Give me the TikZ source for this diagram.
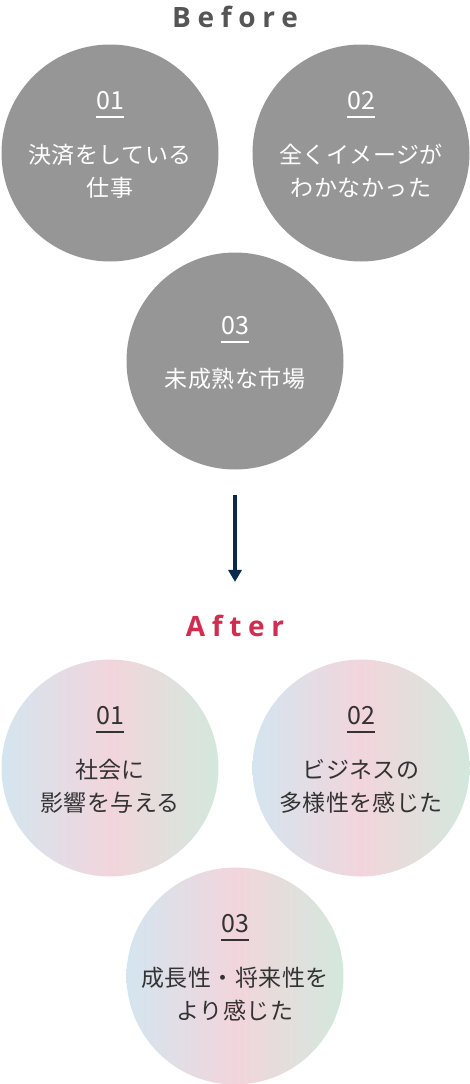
\documentclass[tikz,border=0pt]{standalone}
\usepackage{fontspec}
\setmainfont{Noto Sans CJK JP}
\newfontfamily\titlefont[LetterSpace=24]{Open Sans}
\newfontfamily\jpfont[LetterSpace=2]{Noto Sans CJK JP}
\newfontfamily\numfont{Noto Sans CJK JP}
\usetikzlibrary{arrows.meta}
\definecolor{discgray}{HTML}{969696}
\definecolor{beforetext}{HTML}{555555}
\definecolor{aftertext}{HTML}{D02D50}
\definecolor{arrownavy}{HTML}{082A4E}
\definecolor{aftblue}{HTML}{D4E5EF}
\definecolor{aftpink}{HTML}{F2D5DC}
\definecolor{aftgreen}{HTML}{D3E8DD}
\definecolor{darktext}{HTML}{333333}

\begin{document}
\begin{tikzpicture}[
	  x=1pt, y=-1pt,
	  title/.style={font=\titlefont\bfseries\fontsize{28}{28}\selectfont, inner sep=0pt, anchor=center},
	  disc/.style={circle, minimum size=217pt, inner sep=0pt},
	  before/.style={disc, fill=discgray},
	  after/.style={disc, left color=aftblue, right color=aftgreen, middle color=aftpink},
	  num/.style={font=\numfont\fontsize{25}{25}\selectfont, inner sep=0pt, anchor=base},
	  txt/.style={font=\jpfont\fontsize{23}{33}\selectfont, align=center, inner sep=0pt},
	  uline/.style={line width=1.2pt},
	  flow/.style={-{Triangle[width=13pt,length=12pt]}, line width=4pt, draw=arrownavy}]
	  \useasboundingbox (0,0) rectangle (470,1084);
	  \node[title, text=beforetext] (bef) at (235,17) {Before};
	  \node[before] (b1) at (110,153) {};
	  \node[before] (b2) at (361,153) {};
	  \node[before] (b3) at (235,361) {};
	  \node[num, text=white] (b1n) at (110,109) {01};
	  \draw[uline, white] ([yshift=-8pt]b1n.base west) -- ([yshift=-8pt]b1n.base east);
	  \node[txt, text=white] (b1t) at (110,171) {決済をしている\\仕事};
	  \node[num, text=white] (b2n) at (361,109) {02};
	  \draw[uline, white] ([yshift=-8pt]b2n.base west) -- ([yshift=-8pt]b2n.base east);
	  \node[txt, text=white] (b2t) at (361,171) {全くイメージが\\わかなかった};
	  \node[num, text=white] (b3n) at (235,334) {03};
	  \draw[uline, white] ([yshift=-8pt]b3n.base west) -- ([yshift=-8pt]b3n.base east);
	  \node[txt, text=white] (b3t) at (235,379) {未成熟な市場};
	  \node[title, text=aftertext] (aft) at (235,626) {After};
	  \draw[flow, shorten <=25.5pt, shorten >=33pt] (b3.south) -- (b3.south |- aft.north);
	  \node[after] (a1) at (110,768) {};
	  \node[after] (a2) at (361,768) {};
	  \node[after] (a3) at (235,976) {};
	  \node[num, text=darktext] (a1n) at (110,724) {01};
	  \draw[uline, darktext] ([yshift=-8pt]a1n.base west) -- ([yshift=-8pt]a1n.base east);
	  \node[txt, text=darktext] (a1t) at (110,786) {社会に\\影響を与える};
	  \node[num, text=darktext] (a2n) at (361,724) {02};
	  \draw[uline, darktext] ([yshift=-8pt]a2n.base west) -- ([yshift=-8pt]a2n.base east);
	  \node[txt, text=darktext] (a2t) at (361,786) {ビジネスの\\多様性を感じた};
	  \node[num, text=darktext] (a3n) at (235,932) {03};
	  \draw[uline, darktext] ([yshift=-8pt]a3n.base west) -- ([yshift=-8pt]a3n.base east);
	  \node[txt, text=darktext] (a3t) at (235,994) {成長性・将来性を\\より感じた};
	\end{tikzpicture}
\end{document}
